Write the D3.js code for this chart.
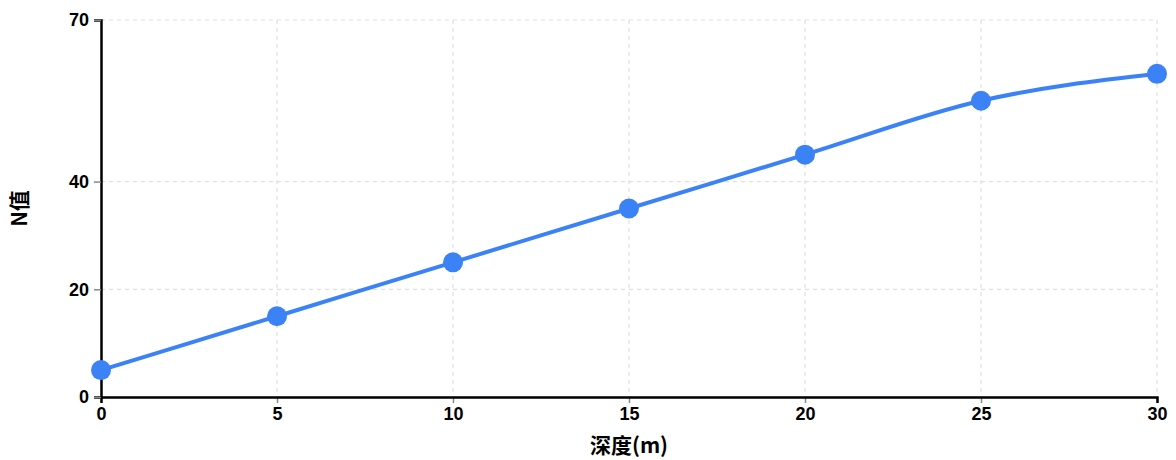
<!DOCTYPE html>
<html><head><meta charset="utf-8">
<script src="https://cdn.jsdelivr.net/npm/d3@7"></script>
<style>
html,body{margin:0;padding:0;background:#fff;}
svg{display:block;font-family:"Liberation Sans",Arial,"Noto Sans CJK SC",sans-serif;}
</style></head>
<body><svg id="c" width="1176" height="460"></svg>
<script>
const depths = [0, 5, 10, 15, 20, 25, 30];
const nValues = [5, 15, 25, 35, 45, 55, 60];
const xTicks = [0, 5, 10, 15, 20, 25, 30];
const yTicks = [0, 20, 40, 70];
const xTitle = "深度(m)";
const yTitle = "N值";

const svg = d3.select("#c");
const m = {l:101, r:1157, t:20, b:397};
const x = d3.scaleLinear().domain([0,30]).range([m.l, m.r]);
const y = d3.scaleLinear().domain([0,70]).range([m.b, m.t]);

// grid
const g = svg.append("g");
g.selectAll("line.gx").data(xTicks).join("line")
  .attr("x1", d=>x(d)).attr("x2", d=>x(d)).attr("y1", m.t).attr("y2", m.b)
  .attr("stroke", "#e0e0e0").attr("stroke-width", 1.2).attr("stroke-dasharray", "4,4");
g.selectAll("line.gy").data(yTicks).join("line")
  .attr("y1", d=>y(d)).attr("y2", d=>y(d)).attr("x1", m.l).attr("x2", m.r)
  .attr("stroke", "#e0e0e0").attr("stroke-width", 1.2).attr("stroke-dasharray", "4,4");

// axes
const xa = svg.append("g").attr("transform", `translate(0,${m.b})`)
  .call(d3.axisBottom(x).tickValues(xTicks).tickSize(6).tickPadding(4).tickFormat(d3.format("d")));
const ya = svg.append("g").attr("transform", `translate(${m.l},0)`)
  .call(d3.axisLeft(y).tickValues(yTicks).tickSize(7).tickPadding(5).tickFormat(d3.format("d")));
[xa, ya].forEach(a => {
  a.select(".domain").attr("stroke", "#000").attr("stroke-width", 2.5);
  a.selectAll(".tick line").attr("stroke", "#888").attr("stroke-width", 1.5);
  a.selectAll(".tick text").attr("fill", "#000").attr("font-size", 18).attr("font-weight", "bold")
    .attr("font-family", "'Liberation Sans', Arial, sans-serif");
});
xa.select(".domain").raise();

// line
const line = d3.line().x((d,i)=>x(depths[i])).y(d=>y(d)).curve(d3.curveMonotoneX);
svg.append("path").datum(nValues).attr("d", line)
  .attr("fill", "none").attr("stroke", "#3b82f6").attr("stroke-width", 4);
svg.selectAll("circle.pt").data(nValues).join("circle")
  .attr("cx", (d,i)=>x(depths[i])).attr("cy", d=>y(d)).attr("r", 10).attr("fill", "#3b82f6");

// titles
svg.append("text").attr("x", (m.l+m.r)/2).attr("y", 453).attr("text-anchor", "middle")
  .attr("font-size", 21).attr("font-weight", "bold")
  .attr("font-family", "'Noto Sans CJK SC', 'Liberation Sans', sans-serif").text(xTitle);
svg.append("text").attr("transform", `translate(27,${(m.t+m.b)/2}) rotate(-90)`).attr("text-anchor", "middle")
  .attr("font-size", 21).attr("font-weight", "bold")
  .attr("font-family", "'Noto Sans CJK SC', 'Liberation Sans', sans-serif").text(yTitle);
</script></body></html>
